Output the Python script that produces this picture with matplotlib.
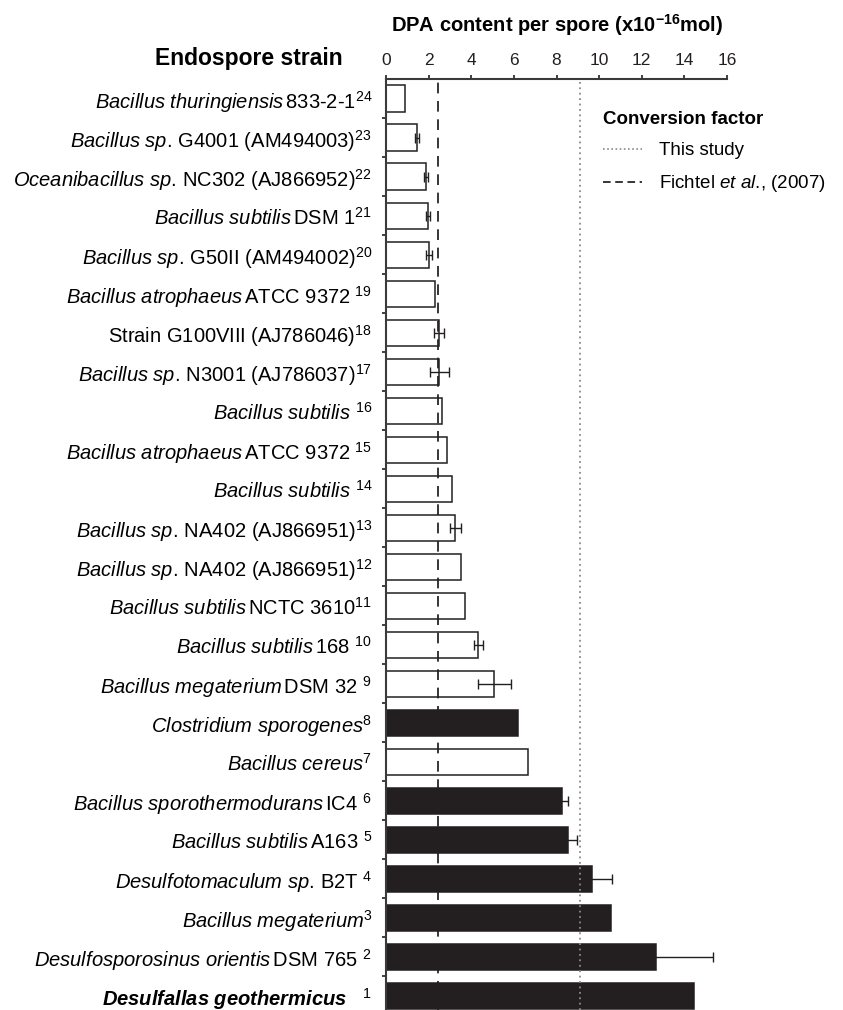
import matplotlib
matplotlib.use('Agg')
import matplotlib.pyplot as plt
import numpy as np

plt.rcParams['font.family'] = ['Liberation Sans', 'DejaVu Sans']
plt.rcParams['mathtext.fontset'] = 'custom'
plt.rcParams['mathtext.rm'] = 'Liberation Sans'
plt.rcParams['mathtext.it'] = 'Liberation Sans:italic'
plt.rcParams['mathtext.bf'] = 'Liberation Sans:bold'
plt.rcParams['mathtext.bfit'] = 'Liberation Sans:bold:italic'

# strains listed top to bottom (reference number 24 down to 1)
species = ['Bacillus thuringiensis', 'Bacillus sp.', 'Oceanibacillus sp.',
           'Bacillus subtilis', 'Bacillus sp.', 'Bacillus atrophaeus', '',
           'Bacillus sp.', 'Bacillus subtilis', 'Bacillus atrophaeus',
           'Bacillus subtilis', 'Bacillus sp.', 'Bacillus sp.',
           'Bacillus subtilis', 'Bacillus subtilis', 'Bacillus megaterium',
           'Clostridium sporogenes', 'Bacillus cereus',
           'Bacillus sporothermodurans', 'Bacillus subtilis',
           'Desulfotomaculum sp.', 'Bacillus megaterium',
           'Desulfosporosinus orientis', 'Desulfallas geothermicus']
strain_ids = ['833-2-1', 'G4001 (AM494003)', 'NC302 (AJ866952)', 'DSM 1',
              'G50II (AM494002)', 'ATCC 9372 ', 'Strain G100VIII (AJ786046)',
              'N3001 (AJ786037)', ' ', 'ATCC 9372 ', ' ', 'NA402 (AJ866951)',
              'NA402 (AJ866951)', 'NCTC 3610', '168 ', 'DSM 32 ', '', '',
              'IC4 ', 'A163 ', 'B2T ', '', 'DSM 765 ', '']
refs = list(range(24, 0, -1))
dpa = [0.9, 1.44, 1.88, 1.96, 2.02, 2.32, 2.48, 2.51, 2.63, 2.84, 3.12, 3.26,
       3.53, 3.69, 4.33, 5.08, 6.2, 6.64, 8.27, 8.56, 9.65, 10.57, 12.66, 14.46]
dpa_err = [0, 0.1, 0.1, 0.1, 0.12, 0, 0.24, 0.44, 0, 0, 0, 0.24,
           0, 0, 0.22, 0.77, 0, 0, 0.28, 0.42, 0.95, 0, 2.7, 0]
filled = [False] * 16 + [True, False, True, True, True, True, True, True]

factor_this_study = 9.1
factor_fichtel = 2.45


def make_label(sp, sid, ref, bold=False):
    parts = []
    if sp:
        sp_tex = sp.replace(' ', r'\ ')
        parts.append((r'\mathbfit{%s}' if bold else r'\mathit{%s}') % sp_tex)
    if sid.strip():
        if sp:
            parts.append(r'\,')
        parts.append(r'\text{%s}' % sid)
    elif sid == ' ':
        parts.append(r'\ ')
    elif bold:
        parts.append(r'\quad')
    return '$' + ''.join(parts) + '{}^{%d}$' % ref


labels = [make_label(s, i, r, bold=(r == 1))
          for s, i, r in zip(species, strain_ids, refs)]

fig = plt.figure(figsize=(8.43, 10.10), dpi=100)
ax = fig.add_axes([386 / 843, 0.0, 341 / 843, 931 / 1010])

pos = np.arange(len(dpa))
face = ['#231f20' if f else 'none' for f in filled]
ax.axvline(factor_fichtel, color='black', lw=1.1, ls=(0, (7, 5)), zorder=1)
ax.barh(pos, dpa, height=0.67, color=face, edgecolor='#231f20',
        linewidth=1.1, zorder=2)
err = np.array(dpa_err)
has_err = err > 0
ax.errorbar(np.array(dpa)[has_err], pos[has_err], xerr=err[has_err],
            fmt='none', ecolor='#231f20', elinewidth=1.0, capsize=3.5,
            capthick=1.0, zorder=3)
ax.axvline(factor_this_study, color='#8a8a8a', lw=1.3, ls=(0, (1, 2)),
           zorder=4)

ax.set_xlim(0, 16)
ax.set_ylim(23.5 - 5.5 / 39, -0.5)
ax.xaxis.tick_top()
ax.set_xticks(np.arange(0, 17, 2))
ax.tick_params(axis='x', direction='out', length=3, width=1.2, pad=5,
               labelsize=12.5, colors='#231f20')
ax.set_yticks(pos)
ax.set_yticklabels(labels, fontsize=14.5)
ax.tick_params(axis='y', which='major', length=0, pad=10)
ax.set_yticks(pos[:-1] + 0.5, minor=True)
ax.tick_params(axis='y', which='minor', direction='out', length=3,
               width=1.2, color='#231f20')
for side in ['right', 'bottom']:
    ax.spines[side].set_visible(False)
for side in ['top', 'left']:
    ax.spines[side].set_linewidth(1.5)
    ax.spines[side].set_color('#3a3a3a')

fig.text(557 / 843, 1 - 25 / 1010,
         r'DPA content per spore (x10$^{\mathbf{-16}}$mol)',
         ha='center', va='center', fontsize=14.5, fontweight='bold')
fig.text(343 / 843, 1 - 59 / 1010, 'Endospore strain', ha='right',
         va='center', fontsize=16.5, fontweight='bold')

h1, = ax.plot([], [], color='#8a8a8a', lw=1.2, ls=(0, (1, 1.5)))
h2, = ax.plot([], [], color='black', lw=1.1, ls=(0, (5, 3)))
leg = fig.legend([h1, h2], ['This study', r'Fichtel $\mathit{et\ al}$., (2007)'],
                 loc='upper left', bbox_to_anchor=(603 / 843, 1 - 111 / 1010),
                 frameon=False, fontsize=13.5, title='Conversion factor',
                 title_fontproperties={'weight': 'bold', 'size': 13.5},
                 alignment='left', borderpad=0, borderaxespad=0,
                 handlelength=2.1, handletextpad=0.9, labelspacing=0.75)

plt.savefig('out.png', dpi=100)
